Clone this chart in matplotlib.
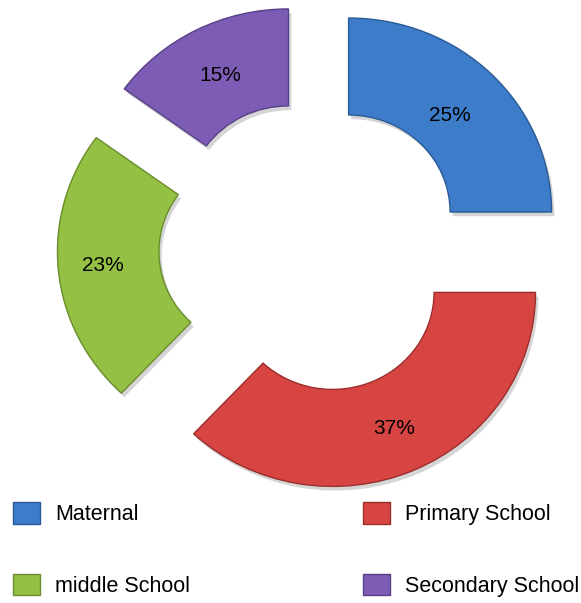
import matplotlib
matplotlib.use('Agg')
import matplotlib.pyplot as plt
import matplotlib.patheffects as pe
import numpy as np

plt.rcParams['font.family'] = ['Liberation Sans', 'DejaVu Sans']

# data
categories = ['Maternal', 'Primary School', 'middle School', 'Secondary School']
shares = [25, 37, 23, 15]
colors = ['#3d7cc9', '#d64541', '#94c044', '#7d5cb5']
edge_colors = ['#2a5a96', '#9c2e2b', '#6a8c2c', '#574085']
label_dist = [0.705, 0.765, 0.78, 0.74]

fig = plt.figure(figsize=(5.81, 6.03), dpi=100)
ax = fig.add_axes([0, 0, 1, 1])

wedges, texts, autotexts = ax.pie(
    shares, colors=colors, startangle=90, counterclock=False,
    explode=[0.255] * 4, radius=1.0, autopct='%1.0f%%',
    wedgeprops=dict(width=0.5, linewidth=1.0),
    textprops=dict(fontsize=15, color='black'))

shadow = [pe.SimplePatchShadow(offset=(2, -3), shadow_rgbFace='#888888', alpha=0.35), pe.Normal()]
for w, ec in zip(wedges, edge_colors):
    w.set_edgecolor(ec)
    w.set_path_effects(shadow)

# move the percent labels a little inside each band
for w, t, d in zip(wedges, autotexts, label_dist):
    mid = np.deg2rad((w.theta1 + w.theta2) / 2)
    cx, cy = w.center
    t.set_position((cx + d * np.cos(mid), cy + d * np.sin(mid)))

# the original is a bit wider than tall: 203 px per unit across, 194 px up
sx, sy = 203.0, 194.0
ax.set_xlim(-312 / sx, (581 - 312) / sx)
ax.set_ylim(-(603 - 247) / sy, 247 / sy)
ax.set_aspect('auto')
ax.axis('off')

order = [0, 2, 1, 3]
leg = fig.legend([wedges[i] for i in order], [categories[i] for i in order],
                 ncol=2, loc='upper left', bbox_to_anchor=(0.0224, 0.1675),
                 bbox_transform=fig.transFigure, frameon=False,
                 fontsize=15.5, handlelength=1.25, handleheight=1.16,
                 handletextpad=0.70, columnspacing=8.05, labelspacing=2.27,
                 borderpad=0, borderaxespad=0)
for h in leg.legend_handles:
    h.set_path_effects([])

fig.savefig('out.png', dpi=100)
